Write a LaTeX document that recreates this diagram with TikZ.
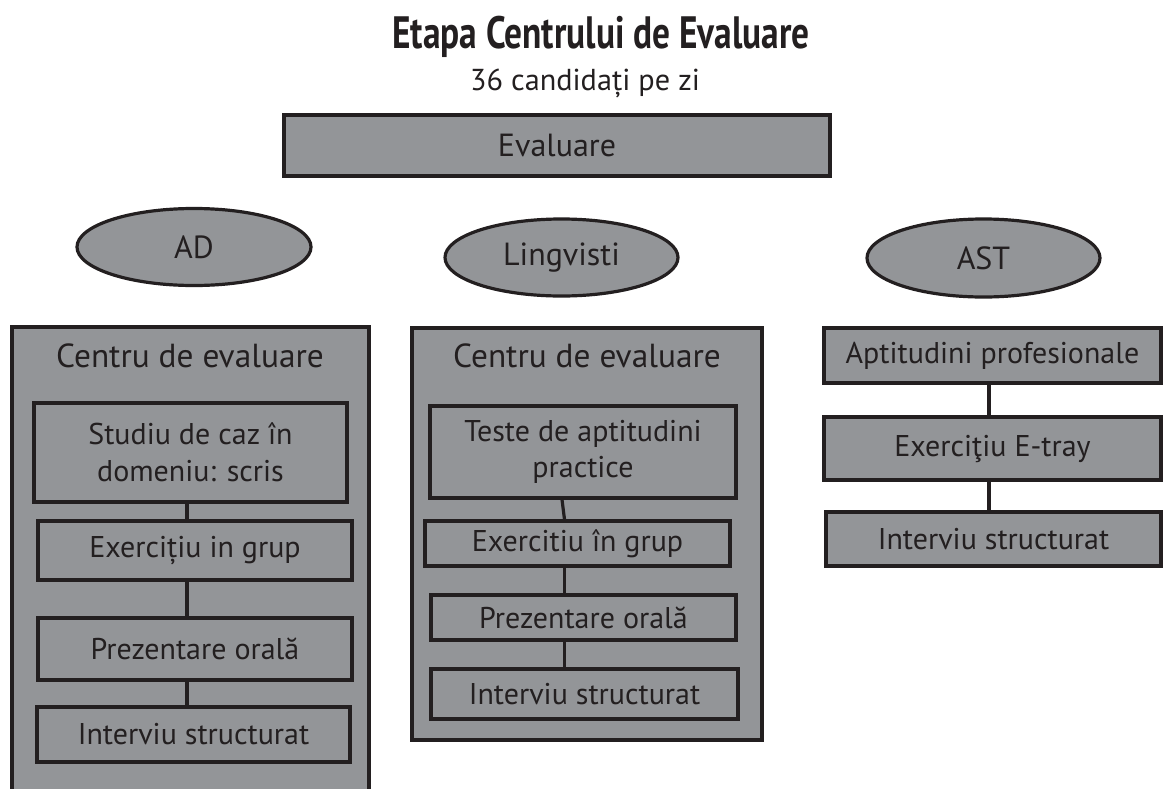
\documentclass[tikz,border=0pt]{standalone}
\usepackage{fontspec}
\setmainfont{PT Sans}
\newfontfamily\titlefont[FakeStretch=0.78]{PT Sans}
\usetikzlibrary{shapes.geometric}
\definecolor{boxgray}{HTML}{939598}
\definecolor{ink}{HTML}{231F20}
\begin{document}
\begin{tikzpicture}[x=0.75pt,y=-0.75pt,
  sz/.style 2 args={minimum width=#1*0.75pt, minimum height=#2*0.75pt},
  box/.style={draw=ink, fill=boxgray, line width=2.4pt, rectangle, inner sep=0pt, text=ink, align=center, font=\fontsize{22.5}{27.5}\selectfont},
  oval/.style={draw=ink, fill=boxgray, line width=2.4pt, ellipse, inner sep=0pt, text=ink, font=\fontsize{24}{28}\selectfont},
  lbl/.style={text=ink, anchor=base, inner sep=0pt, font=\fontsize{25}{30}\selectfont},
  link/.style={draw=ink, line width=2.4pt}]
\clip (0,0) rectangle (1164,789);
\fill[white] (0,0) rectangle (1164,789);

% title
\node[lbl, font=\titlefont\bfseries\fontsize{34}{40}\selectfont] (title) at (601,48) {Etapa Centrului de Evaluare};
\node[lbl, font=\fontsize{22.7}{27}\selectfont] (sub) at (585,90) {36 candidați pe zi};

\node[box, sz={546}{61}, font=\fontsize{24}{28}\selectfont] (eval) at (557,145.5) {Evaluare};

% ellipses
\node[oval, sz={234}{77}] (ad) at (194,247) {AD};
\node[oval, sz={233}{77}] (ling) at (561.5,257.5) {Lingvisti};
\node[oval, sz={233}{78}] (ast) at (983.5,258) {AST};

% AD column
\node[box, sz={357}{493}] (adout) at (190.5,573.5) {};
\node[lbl] (adlbl) at (190,367) {Centru de evaluare};
\node[box, sz={313}{99}] (ad1) at (190.5,452.5) {Studiu de caz în\\domeniu: scris};
\node[box, sz={314}{59}] (ad2) at (195,550.5) {Exercițiu in grup};
\node[box, sz={314}{62}] (ad3) at (195,649) {Prezentare orală};
\node[box, sz={313}{55}] (ad4) at (193.5,734.5) {Interviu structurat};
\coordinate (cad) at (187,0);
\draw[link] (ad1.south -| cad) -- (ad2.north -| cad);
\draw[link] (ad2.south -| cad) -- (ad3.north -| cad);
\draw[link] (ad3.south -| cad) -- (ad4.north -| cad);

% Lingvisti column
\node[box, sz={350}{412}] (liout) at (587,534) {};
\node[lbl] (lilbl) at (587,367) {Centru de evaluare};
\node[box, sz={306}{92}] (li1) at (583,452) {Teste de aptitudini\\practice};
\node[box, sz={305}{45}] (li2) at (577.5,543.5) {Exercitiu în grup};
\node[box, sz={305}{45}] (li3) at (583.5,617.5) {Prezentare orală};
\node[box, sz={307}{50}] (li4) at (584.5,694) {Interviu structurat};
\coordinate (cl1) at (562,0);
\coordinate (cl2) at (564.5,0);
\draw[link] (li1.south -| cl1) -- (li2.north -| cl2);
\draw[link] (li2.south -| cl2) -- (li3.north -| cl2);
\draw[link] (li3.south -| cl2) -- (li4.north -| cl2);

% AST column
\node[box, sz={337}{55}] (as1) at (992.5,355.5) {Aptitudini profesionale};
\node[box, sz={337}{63}] (as2) at (992.5,448.5) {Exerciţiu E-tray};
\node[box, sz={335}{54}] (as3) at (993.5,539) {Interviu structurat};
\coordinate (cas) at (989,0);
\draw[link] (as1.south -| cas) -- (as2.north -| cas);
\draw[link] (as2.south -| cas) -- (as3.north -| cas);
\end{tikzpicture}
\end{document}
